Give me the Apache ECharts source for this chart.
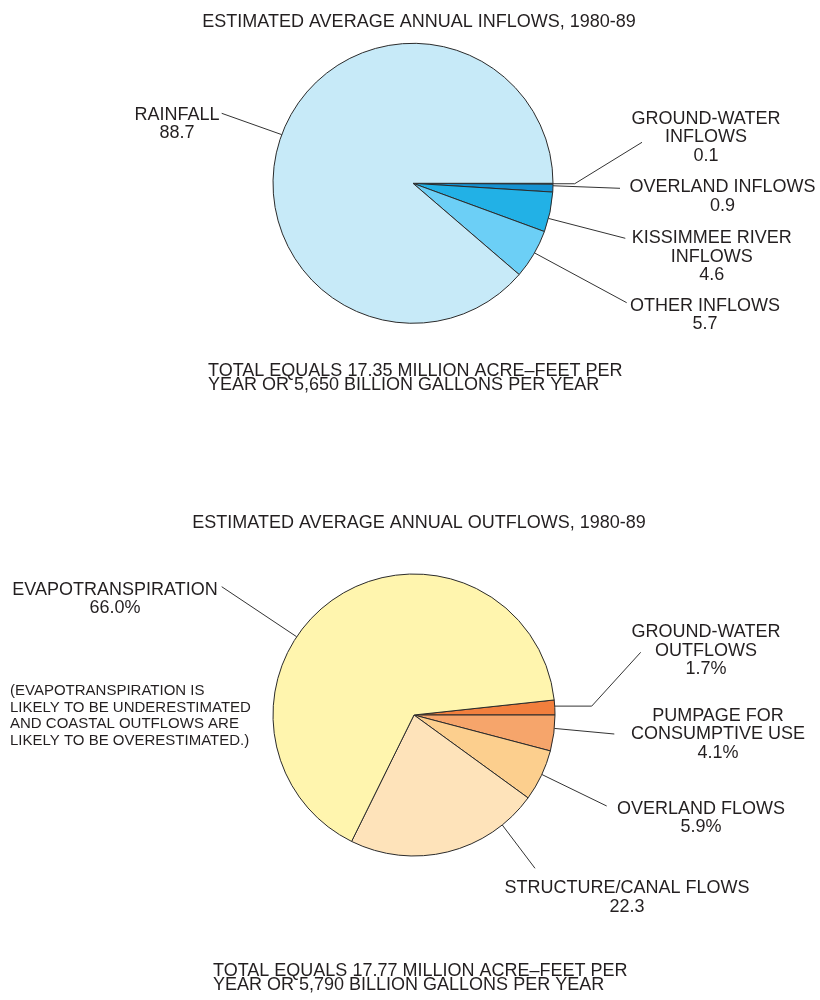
<!DOCTYPE html>
<html>
<head>
<meta charset="utf-8">
<script src="https://cdn.jsdelivr.net/npm/echarts@6/dist/echarts.min.js"></script>
<style>
  html, body { margin: 0; padding: 0; background: #fff; }
  #chart { width: 820px; height: 1000px; }
</style>
</head>
<body>
<div id="chart"></div>
<script>
// ---- Data: slices listed clockwise from the first cut ----
const inflowNames = ['GROUND-WATER\nINFLOWS', 'OVERLAND INFLOWS', 'KISSIMMEE RIVER\nINFLOWS', 'OTHER INFLOWS', 'RAINFALL'];
const inflowValues = [0.1, 0.9, 4.6, 5.7, 88.7];
const inflowUnits = ['', '', '', '', ''];

const outflowNames = ['GROUND-WATER\nOUTFLOWS', 'PUMPAGE FOR\nCONSUMPTIVE USE', 'OVERLAND FLOWS', 'STRUCTURE/CANAL FLOWS', 'EVAPOTRANSPIRATION'];
const outflowValues = [1.7, 4.1, 5.9, 22.3, 66.0];
const outflowUnits = ['%', '%', '%', '', '%'];

const inflowTitle = 'ESTIMATED AVERAGE ANNUAL INFLOWS, 1980-89';
const outflowTitle = 'ESTIMATED AVERAGE ANNUAL OUTFLOWS, 1980-89';
const inflowTotal = 'TOTAL EQUALS 17.35 MILLION ACRE\u2013FEET PER\nYEAR OR 5,650 BILLION GALLONS PER YEAR';
const outflowTotal = 'TOTAL EQUALS 17.77 MILLION ACRE\u2013FEET PER\nYEAR OR 5,790 BILLION GALLONS PER YEAR';
const evapNote = '(EVAPOTRANSPIRATION IS\nLIKELY TO BE UNDERESTIMATED\nAND COASTAL OUTFLOWS ARE\nLIKELY TO BE OVERESTIMATED.)';

// ---- Styling / layout ----
const FONT = '"Liberation Sans", Arial, Helvetica, sans-serif';
const TEXT_COLOR = '#231f20';
const LABEL_SIZE = 18;
const LINE_H = 18.5;

const inflowColors = ['#3db6ea', '#1592d2', '#22b1e6', '#6ccff6', '#c7eaf8'];
const outflowColors = ['#f27f3d', '#f6a56b', '#fccf8e', '#fee3ba', '#fff5ae'];

const inflowCenter = [413, 183.3];
const inflowRadius = 140;
const outflowCenter = [414, 715];
const outflowRadius = 141;

// Label placement: x = text centre, y = centre of first text line,
// frac = where along the slice arc the leader starts,
// bendDx = optional horizontal run from the arc, end = leader end point.
const inflowLabelPos = [
  { x: 706, y: 119, frac: 0.5, bendDx: 21.7, end: [642, 142.3] },
  { x: 722.5, y: 187.5, frac: 0.2, end: [620, 188.3] },
  { x: 711.7, y: 238.3, frac: 0.66, end: [625.3, 238.3] },
  { x: 705, y: 305.7, frac: 0.47, end: [626.7, 302.7] },
  { x: 177, y: 115, frac: 0.5, end: [221.7, 113.3] }
];
const outflowLabelPos = [
  { x: 706, y: 632.5, frac: 0.41, bendDx: 37, end: [640.7, 652.3] },
  { x: 718, y: 716, frac: 0.37, end: [614.3, 734] },
  { x: 701, y: 809, frac: 0.48, end: [606.7, 806] },
  { x: 627, y: 888.3, frac: 0.19, end: [535, 868.3] },
  { x: 115, y: 590, frac: 0.41, end: [221.7, 586.7] }
];

function sum(arr) { return arr.reduce((a, b) => a + b, 0); }

// Positions each label and routes its leader from the slice's own arc.
function makeLabelLayout(values, center, radius, startDeg, specs) {
  const total = sum(values);
  return function (params) {
    const i = params.dataIndex;
    const spec = specs[i];
    const before = sum(values.slice(0, i));
    const a0 = -startDeg + before / total * 360;
    const a1 = a0 + values[i] / total * 360;
    const a = (a0 + spec.frac * (a1 - a0)) * Math.PI / 180;
    const start = [center[0] + radius * Math.cos(a), center[1] + radius * Math.sin(a)];
    const pts = [start];
    if (spec.bendDx) pts.push([start[0] + spec.bendDx, start[1]]);
    pts.push(spec.end);
    return {
      x: spec.x,
      y: spec.y - LINE_H / 2,
      align: 'center',
      verticalAlign: 'top',
      labelLinePoints: pts
    };
  };
}

function buildData(names, values, colors) {
  return names.map((n, i) => ({ name: n, value: values[i], itemStyle: { color: colors[i] } }));
}

function pieSeries(names, values, units, colors, center, radius, startDeg, specs) {
  return {
    type: 'pie',
    silent: true,
    center: center,
    radius: radius,
    startAngle: startDeg,
    clockwise: true,
    avoidLabelOverlap: false,
    minShowLabelAngle: 0,
    data: buildData(names, values, colors),
    itemStyle: { borderColor: '#2b2b2b', borderWidth: 1 },
    label: {
      show: true,
      position: 'outside',
      fontFamily: FONT,
      fontSize: LABEL_SIZE,
      lineHeight: LINE_H,
      color: TEXT_COLOR,
      formatter: function (p) { return p.name + '\n' + p.value.toFixed(1) + units[p.dataIndex]; }
    },
    labelLine: { show: true, lineStyle: { color: '#333', width: 1 } },
    labelLayout: makeLabelLayout(values, center, radius, startDeg, specs),
    emphasis: { disabled: true }
  };
}

// Outflow pie begins its first slice above the 3 o'clock line so the slice ends there.
const outflowStart = outflowValues[0] / sum(outflowValues) * 360;

const chart = echarts.init(document.getElementById('chart'), null, { renderer: 'canvas' });

function textEl(text, x, y, size, lh, align, vAlign) {
  return {
    type: 'text', x: x, y: y, silent: true,
    style: { text: text, fontFamily: FONT, fontSize: size, lineHeight: lh, fill: TEXT_COLOR, align: align, verticalAlign: vAlign }
  };
}

chart.setOption({
  animation: false,
  backgroundColor: '#ffffff',
  series: [
    pieSeries(inflowNames, inflowValues, inflowUnits, inflowColors, inflowCenter, inflowRadius, 0, inflowLabelPos),
    pieSeries(outflowNames, outflowValues, outflowUnits, outflowColors, outflowCenter, outflowRadius, outflowStart, outflowLabelPos)
  ],
  graphic: [
    textEl(inflowTitle, 419, 22.5, 18, 20, 'center', 'middle'),
    textEl(inflowTotal, 208, 370.8 - 7.1, 18, 14.2, 'left', 'top'),
    textEl(outflowTitle, 419, 523, 18, 20, 'center', 'middle'),
    textEl(outflowTotal, 213, 970.8 - 7.1, 18, 14.2, 'left', 'top'),
    textEl(evapNote, 10, 690.8 - 8.35, 15, 16.7, 'left', 'top')
  ]
});
</script>
</body>
</html>
